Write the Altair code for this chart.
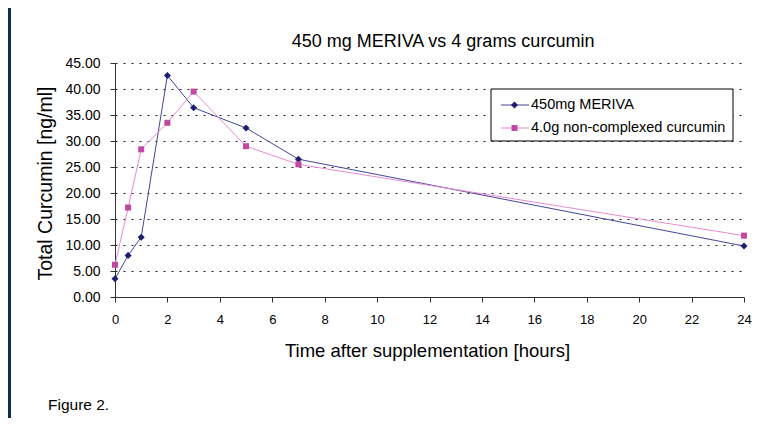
import altair as alt
import pandas as pd

# ---- data ----
hours = [0, 0.5, 1, 2, 3, 5, 7, 24]
meriva = [3.5, 8.0, 11.5, 42.6, 36.4, 32.5, 26.5, 9.8]
curcumin = [6.2, 17.2, 28.4, 33.5, 39.5, 29.0, 25.5, 11.8]
series = ["450mg MERIVA", "4.0g non-complexed curcumin"]

title_text = "450 mg MERIVA vs 4 grams curcumin"
x_title = "Time after supplementation [hours]"
y_title = "Total Curcumin [ng/ml]"
caption_text = "Figure 2."
x_ticks = [0, 2, 4, 6, 8, 10, 12, 14, 16, 18, 20, 22, 24]
y_ticks = [0, 5, 10, 15, 20, 25, 30, 35, 40, 45]

# ---- styles ----
NAVY = "#0a3049"
line_colors = ["#45459a", "#e48bd0"]
marker_colors = ["#1e1e6e", "#c2479f"]
shapes = ["diamond", "square"]
marker_sizes = [50, 36]
FONT = "Liberation Sans"

df = pd.DataFrame({
    "hours": hours + hours,
    "value": meriva + curcumin,
    "series": [series[0]] * len(hours) + [series[1]] * len(hours),
})
leg_df = pd.DataFrame({"series": series})
one = pd.DataFrame({"t": [0]})

x_axis = alt.Axis(
    values=x_ticks, format="d", title=x_title, grid=False,
    tickSize=5, labelPadding=11, domainColor="#333", tickColor="#333",
    labelFont=FONT, labelFontSize=13, labelColor="black",
    labelFlush=False, labelOverlap=False,
    titleFont=FONT, titleFontSize=18.5, titleFontWeight="normal", titleColor="black",
    titleX=312, titleY=59, titleAlign="center", titleBaseline="alphabetic",
)
y_axis = alt.Axis(
    values=y_ticks, format=".2f", title=y_title, grid=True,
    gridDash=[2, 6], gridColor="#222", gridWidth=1,
    tickSize=5, labelPadding=10, domainColor="#333", tickColor="#333",
    labelFont=FONT, labelFontSize=14, labelColor="black",
    labelFlush=False, labelOverlap=False,
    titleFont=FONT, titleFontSize=19.5, titleFontWeight="normal", titleColor="black",
    titleX=-70, titleY=120, titleAngle=270, titleAlign="center", titleBaseline="middle",
)
x_enc = alt.X("hours:Q", scale=alt.Scale(domain=[0, 24], nice=False, zero=False), axis=x_axis)
y_enc = alt.Y("value:Q", scale=alt.Scale(domain=[0, 45], nice=False, zero=True), axis=y_axis)

# thin navy frame strip on the left edge
frame = alt.Chart(one).mark_rect(fill=NAVY).encode(
    x=alt.value(-110), x2=alt.value(-104), y=alt.value(-60), y2=alt.value(370)
)

lines = alt.Chart(df).mark_line(strokeWidth=1).encode(
    x=x_enc, y=y_enc,
    color=alt.Color("series:N", scale=alt.Scale(domain=series, range=line_colors), legend=None),
)
points = alt.Chart(df).mark_point(filled=True, opacity=1, strokeWidth=0).encode(
    x=x_enc, y=y_enc,
    fill=alt.Fill("series:N", scale=alt.Scale(domain=series, range=marker_colors), legend=None),
    shape=alt.Shape("series:N", scale=alt.Scale(domain=series, range=shapes), legend=None),
    size=alt.Size("series:N", scale=alt.Scale(domain=series, range=marker_sizes), legend=None),
)
main = alt.layer(lines, points)

leg_y = alt.Y("series:N", scale=alt.Scale(type="point", domain=series, range=[42, 65], padding=0), axis=None)
leg_box = alt.Chart(one).mark_rect(fill="white", stroke="black", strokeWidth=1).encode(
    x=alt.value(376), x2=alt.value(618), y=alt.value(26), y2=alt.value(78)
)
leg_lines = alt.Chart(leg_df).mark_rule(strokeWidth=1).encode(
    x=alt.value(386), x2=alt.value(414), y=leg_y,
    color=alt.Color("series:N", scale=alt.Scale(domain=series, range=line_colors), legend=None),
)
leg_pts = alt.Chart(leg_df).mark_point(filled=True, opacity=1, strokeWidth=0).encode(
    x=alt.value(399.5), y=leg_y,
    fill=alt.Fill("series:N", scale=alt.Scale(domain=series, range=marker_colors), legend=None),
    shape=alt.Shape("series:N", scale=alt.Scale(domain=series, range=shapes), legend=None),
    size=alt.Size("series:N", scale=alt.Scale(domain=series, range=marker_sizes), legend=None),
)
leg_text = alt.Chart(leg_df).mark_text(
    align="left", baseline="middle", font=FONT, fontSize=14.5, color="black"
).encode(x=alt.value(416), y=leg_y, text="series:N")
legend = alt.layer(leg_box, leg_lines, leg_pts, leg_text)

title_layer = alt.Chart(one).mark_text(
    text=title_text, font=FONT, fontSize=18, align="center", baseline="alphabetic", color="black"
).encode(x=alt.value(328), y=alt.value(-16))
caption_layer = alt.Chart(one).mark_text(
    text=caption_text, font=FONT, fontSize=15.5, align="left", baseline="alphabetic", color="black"
).encode(x=alt.value(-67), y=alt.value(347))

chart = alt.layer(frame, main, legend, title_layer, caption_layer).resolve_scale(
    y="independent"
).properties(
    width=629, height=234,
    background="white",
    padding={"left": 107, "top": 55, "right": 16, "bottom": 121},
    autosize=alt.AutoSizeParams(type="none"),
).configure_view(stroke=None)

chart.save("out.html", embed_options={"renderer": "svg", "actions": False})
